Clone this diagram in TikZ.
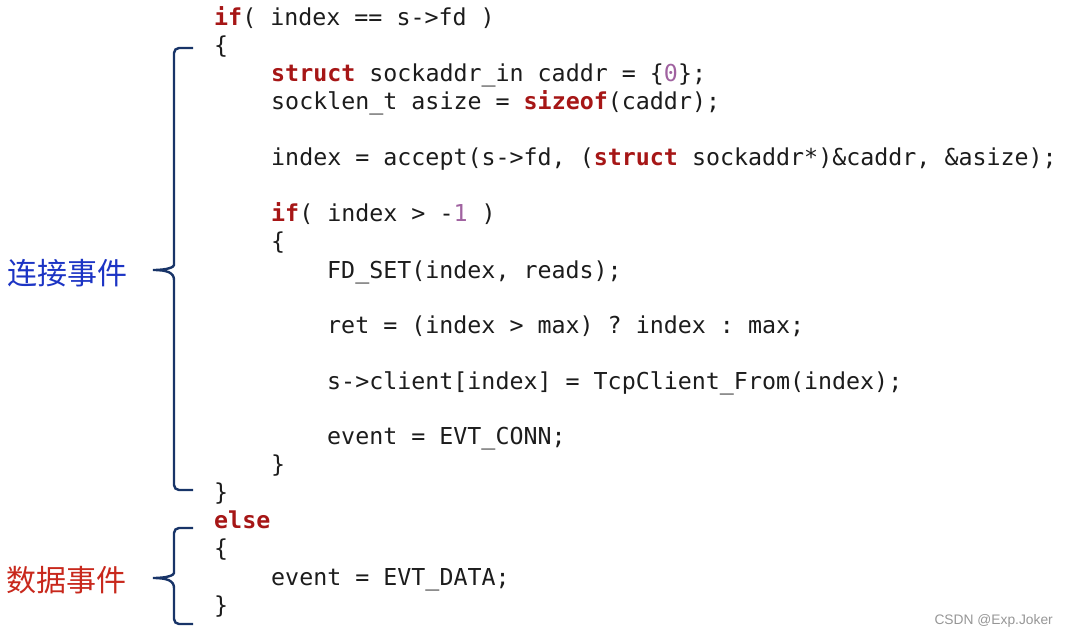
\documentclass[tikz,border=0pt]{standalone}
\usepackage{fontspec}
\newfontfamily\codefont{DejaVu Sans Mono}
\newfontfamily\cjkfont{Noto Sans CJK SC}
\newfontfamily\markfont{Liberation Sans}
\definecolor{kwred}{RGB}{166,22,22}
\definecolor{numpurple}{RGB}{160,98,160}
\definecolor{codeblack}{RGB}{28,28,28}
\definecolor{bracenavy}{RGB}{24,52,104}
\definecolor{connblue}{RGB}{28,52,196}
\definecolor{datared}{RGB}{200,40,28}
\definecolor{markgray}{RGB}{150,150,150}
\newcommand{\kwd}[1]{{\color{kwred}\bfseries #1}}
\newcommand{\numc}[1]{{\color{numpurple}#1}}
\frenchspacing

\tikzset{%
  code line/.style={
    anchor=base west,
    inner sep=0pt,
    text=codeblack,
    font=\codefont\fontsize{23.3pt}{28pt}\selectfont
  },
  brace line/.style={
    draw=bracenavy,
    line width=2.4pt,
    rounded corners=5pt
  },
  event label/.style={
    anchor=base,
    inner sep=0pt,
    font=\cjkfont\fontsize{30pt}{36pt}\selectfont
  },
}

\begin{document}
\begin{tikzpicture}[x=1pt,y=-1pt]
\useasboundingbox (0,0) rectangle (1068,639);
% if branch
\node[code line] (if) at (214,26) {\kwd{if}( index == s->fd )};
\node[code line] (if open) at (214,54) {\{};
\node[code line] (caddr) at (271,82) {\kwd{struct} sockaddr\_in caddr = \{\numc{0}\};};
\node[code line] (asize) at (271,110) {socklen\_t asize = \kwd{sizeof}(caddr);};
\node[code line] (accept) at (271,166) {index = accept(s->fd, (\kwd{struct} sockaddr*)\&caddr, \&asize);};
\node[code line] (check) at (271,222) {\kwd{if}( index > -\numc{1} )};
\node[code line] (check open) at (271,250) {\{};
\node[code line] (fdset) at (327,278) {FD\_SET(index, reads);};
\node[code line] (ret) at (327,333) {ret = (index > max) ? index : max;};
\node[code line] (client) at (327,389) {s->client[index] = TcpClient\_From(index);};
\node[code line] (conn) at (327,444) {event = EVT\_CONN;};
\node[code line] (check close) at (271,472) {\}};
\node[code line] (if close) at (214,500) {\}};
% else branch
\node[code line] (else) at (214,528) {\kwd{else}};
\node[code line] (else open) at (214,556) {\{};
\node[code line] (data) at (271,585) {event = EVT\_DATA;};
\node[code line] (else close) at (214,613) {\}};
% braces and labels
\draw[brace line] (193,48) -- (174,48) -- (174,260) [sharp corners]
  .. controls (174,267) and (168,270) .. (153,270)
  .. controls (168,270) and (174,273) .. (174,280) [rounded corners=5pt]
  -- (174,490) -- (193,490);
\draw[brace line] (193,528) -- (174,528) -- (174,568) [sharp corners]
  .. controls (174,575) and (168,578) .. (153,578)
  .. controls (168,578) and (174,581) .. (174,588) [rounded corners=5pt]
  -- (174,624) -- (193,624);
\node[event label, text=connblue] (conn label) at (68,284) {连接事件};
\node[event label, text=datared] (data label) at (66,591) {数据事件};
% watermark
\node[anchor=east, inner sep=0pt, text=markgray, font=\markfont\fontsize{13.8pt}{16pt}\selectfont] (mark) at (1053,621) {CSDN @Exp.Joker};
\end{tikzpicture}
\end{document}
